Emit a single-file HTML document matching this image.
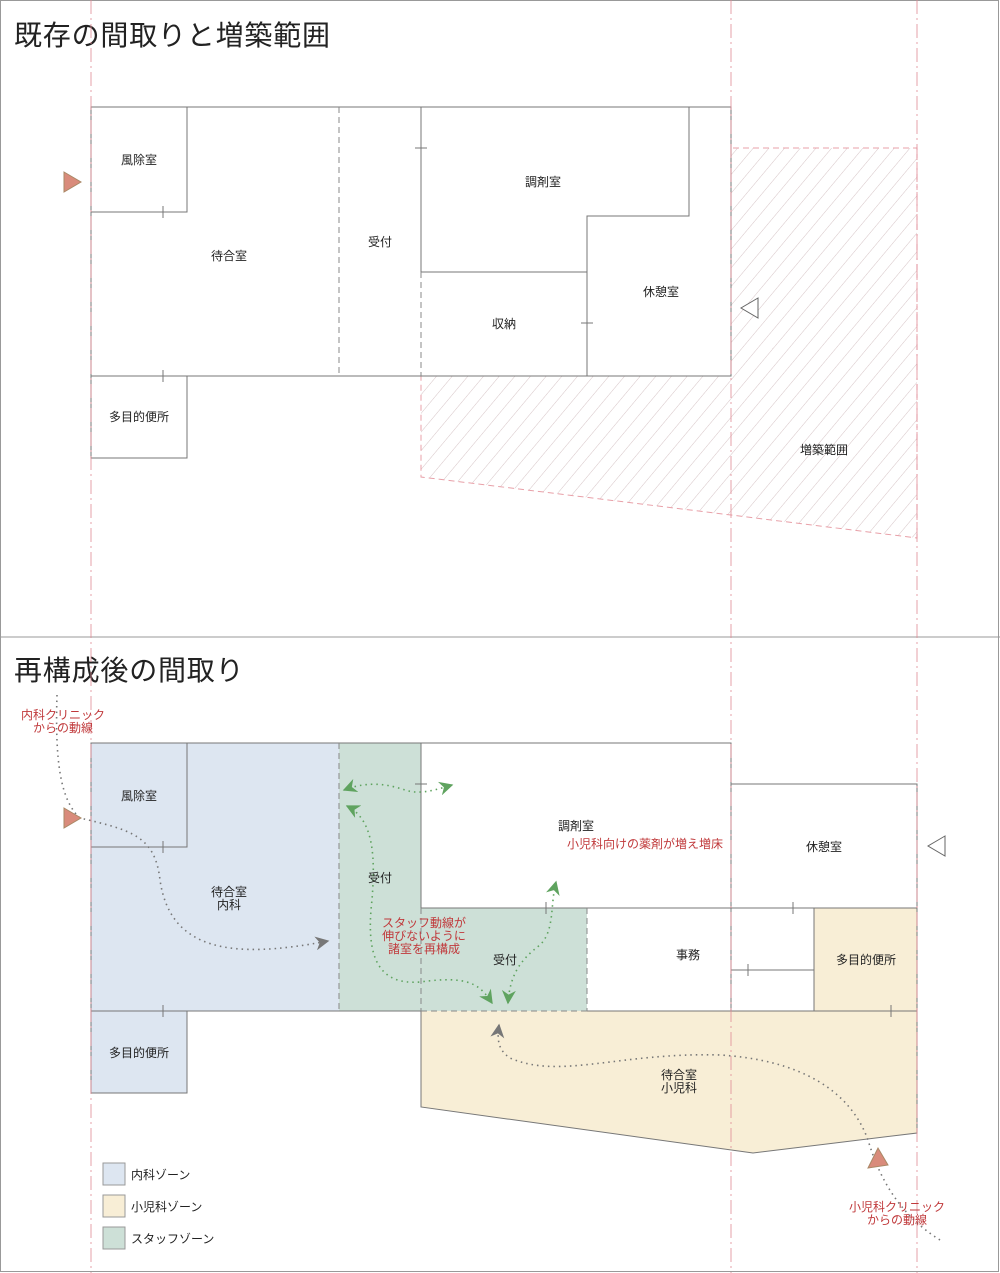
<!DOCTYPE html>
<html><head><meta charset="utf-8"><style>
html,body{margin:0;padding:0;background:#fff}
svg{display:block}
text{font-family:"Liberation Sans","Noto Sans CJK JP",sans-serif}
</style></head><body>
<svg width="1000" height="1273" viewBox="0 0 1000 1273" xmlns="http://www.w3.org/2000/svg">
<defs>
<pattern id="h" patternUnits="userSpaceOnUse" width="12" height="12" patternTransform="rotate(40)">
<line x1="0" y1="0" x2="0" y2="12" stroke="#d6c4c6" stroke-width="1"/>
</pattern>
<marker id="ag" viewBox="0 0 10 10" refX="9" refY="5" markerWidth="14" markerHeight="14" markerUnits="userSpaceOnUse" orient="auto-start-reverse"><path d="M0,0 L10,5 L0,10 L3,5z" fill="#5fa35f"/></marker>
<marker id="ak" viewBox="0 0 10 10" refX="9" refY="5" markerWidth="14" markerHeight="14" markerUnits="userSpaceOnUse" orient="auto-start-reverse"><path d="M0,0 L10,5 L0,10 L3,5z" fill="#777"/></marker>
</defs>
<rect x="0.5" y="0.5" width="998" height="1271" fill="#fff" stroke="#999"/>
<line x1="0" y1="637" x2="1000" y2="637" stroke="#999"/>

<!-- TOP -->
<text x="14" y="45" font-size="28" letter-spacing="0.8" fill="#222">既存の間取りと増築範囲</text>
<polygon points="421,376 731,376 731,148 917,148 917,538 731,515 421,477" fill="url(#h)" stroke="#e8a0a8" stroke-dasharray="6,4"/>
<g fill="none" stroke="#777" stroke-width="1">
<rect x="91" y="107" width="640" height="269"/>
<polyline points="91,212 187,212 187,107"/>
<line x1="421" y1="107" x2="421" y2="272"/>
<line x1="421" y1="272" x2="587" y2="272"/>
<polyline points="689,107 689,216 587,216 587,376"/>
<rect x="91" y="376" width="96" height="82"/>
<line x1="415" y1="148" x2="427" y2="148"/>
<line x1="163" y1="206" x2="163" y2="218"/>
<line x1="163" y1="370" x2="163" y2="382"/>
<line x1="581" y1="323" x2="593" y2="323"/>
</g>
<g fill="none" stroke="#888" stroke-dasharray="6,4">
<line x1="339" y1="107" x2="339" y2="376"/>
<line x1="421" y1="272" x2="421" y2="376"/>
</g>
<polygon points="64,172 81,182 64,192" fill="#d98b7b" stroke="#a86"/>
<polygon points="758,298 741,308 758,318" fill="#fff" stroke="#666"/>
<g font-size="12" fill="#222" text-anchor="middle">
<text x="139" y="164">風除室</text>
<text x="229" y="260">待合室</text>
<text x="380" y="246">受付</text>
<text x="543" y="186">調剤室</text>
<text x="504" y="328">収納</text>
<text x="661" y="296">休憩室</text>
<text x="139" y="421">多目的便所</text>
<text x="824" y="454">増築範囲</text>
</g>

<!-- BOTTOM -->
<text x="14" y="680" font-size="28" letter-spacing="0.8" fill="#222">再構成後の間取り</text>
<g stroke="none">
<rect x="91" y="743" width="248" height="268" fill="#dde6f1"/>
<rect x="91" y="1011" width="96" height="82" fill="#dde6f1"/>
<rect x="339" y="743" width="82" height="268" fill="#cde0d7"/>
<rect x="421" y="908" width="166" height="103" fill="#cde0d7"/>
<polygon points="421,1011 917,1011 917,1133 753,1153 421,1107" fill="#f8eed6"/>
<rect x="814" y="908" width="103" height="103" fill="#f8eed6"/>
</g>
<g fill="none" stroke="#777">
<polyline points="91,1011 91,743 731,743 731,908"/>
<line x1="91" y1="1011" x2="421" y2="1011"/>
<polyline points="187,743 187,847 91,847"/>
<rect x="91" y="1011" width="96" height="82"/>
<line x1="421" y1="743" x2="421" y2="908"/>
<line x1="421" y1="908" x2="917" y2="908"/>
<polyline points="731,784 917,784 917,1133 753,1153 421,1107 421,1011"/>
<line x1="587" y1="1011" x2="917" y2="1011"/>
<line x1="731" y1="908" x2="731" y2="1011"/>
<line x1="731" y1="970" x2="814" y2="970"/>
<line x1="814" y1="908" x2="814" y2="1011"/>
<line x1="415" y1="784" x2="427" y2="784"/>
<line x1="163" y1="841" x2="163" y2="853"/>
<line x1="546" y1="902" x2="546" y2="914"/>
<line x1="163" y1="1005" x2="163" y2="1017"/>
<line x1="793" y1="902" x2="793" y2="914"/>
<line x1="748" y1="964" x2="748" y2="976"/>
<line x1="891" y1="1005" x2="891" y2="1017"/>
</g>
<g fill="none" stroke="#888" stroke-dasharray="6,4">
<line x1="339" y1="743" x2="339" y2="1011"/>
<line x1="421" y1="908" x2="421" y2="1011"/>
<line x1="587" y1="908" x2="587" y2="1011"/>
<line x1="421" y1="1011" x2="587" y2="1011"/>
</g>

<!-- red axis lines -->
<g stroke="#e08a94" stroke-dasharray="14,4,2,4" stroke-width="0.8">
<line x1="91" y1="0" x2="91" y2="1273"/>
<line x1="731" y1="0" x2="731" y2="1273"/>
<line x1="917" y1="0" x2="917" y2="1273"/>
</g>

<!-- flows -->
<g fill="none" stroke-dasharray="1.5,4" stroke-width="1.6">
<path d="M57,695 C55,760 60,800 80,818 C130,830 155,835 160,880 C170,950 230,960 328,941" stroke="#777" marker-end="url(#ak)"/>
<path d="M940,1240 C900,1215 880,1180 868,1140 C850,1090 800,1060 720,1055 C620,1052 560,1080 510,1058 C498,1050 497,1040 499,1025" stroke="#777" marker-end="url(#ak)"/>
<path d="M344,790 C370,780 390,785 405,790 C420,795 435,790 452,785" stroke="#5fa35f" marker-start="url(#ag)" marker-end="url(#ag)"/>
<path d="M347,806 C375,820 375,860 372,900 C365,960 380,985 420,982 C470,975 480,985 492,1003" stroke="#5fa35f" marker-start="url(#ag)" marker-end="url(#ag)"/>
<path d="M508,1003 C510,975 520,960 540,945 C555,930 550,905 556,882" stroke="#5fa35f" marker-start="url(#ag)" marker-end="url(#ag)"/>
</g>
<polygon points="64,808 81,818 64,828" fill="#d98b7b" stroke="#a86"/>
<polygon points="868,1168 878,1148 888,1165" fill="#d98b7b" stroke="#a86"/>
<polygon points="945,836 928,846 945,856" fill="#fff" stroke="#666"/>

<g font-size="12" fill="#222" text-anchor="middle">
<text x="139" y="800">風除室</text>
<text x="229" y="896">待合室</text>
<text x="229" y="909">内科</text>
<text x="380" y="882">受付</text>
<text x="576" y="830">調剤室</text>
<text x="824" y="851">休憩室</text>
<text x="505" y="964">受付</text>
<text x="688" y="959">事務</text>
<text x="866" y="964">多目的便所</text>
<text x="679" y="1079">待合室</text>
<text x="679" y="1092">小児科</text>
<text x="139" y="1057">多目的便所</text>
</g>
<g font-size="12" fill="#c0393b" text-anchor="middle">
<text x="63" y="719">内科クリニック</text>
<text x="63" y="732">からの動線</text>
<text x="645" y="848">小児科向けの薬剤が増え増床</text>
<text x="424" y="927">スタッフ動線が</text>
<text x="424" y="940">伸びないように</text>
<text x="424" y="953">諸室を再構成</text>
<text x="897" y="1211">小児科クリニック</text>
<text x="897" y="1224">からの動線</text>
</g>
<g stroke="#999">
<rect x="103" y="1163" width="22" height="22" fill="#dde6f1"/>
<rect x="103" y="1195" width="22" height="22" fill="#f8eed6"/>
<rect x="103" y="1227" width="22" height="22" fill="#cde0d7"/>
</g>
<g font-size="12" fill="#222">
<text x="131" y="1179">内科ゾーン</text>
<text x="131" y="1211">小児科ゾーン</text>
<text x="131" y="1243">スタッフゾーン</text>
</g>
</svg>
</body></html>
